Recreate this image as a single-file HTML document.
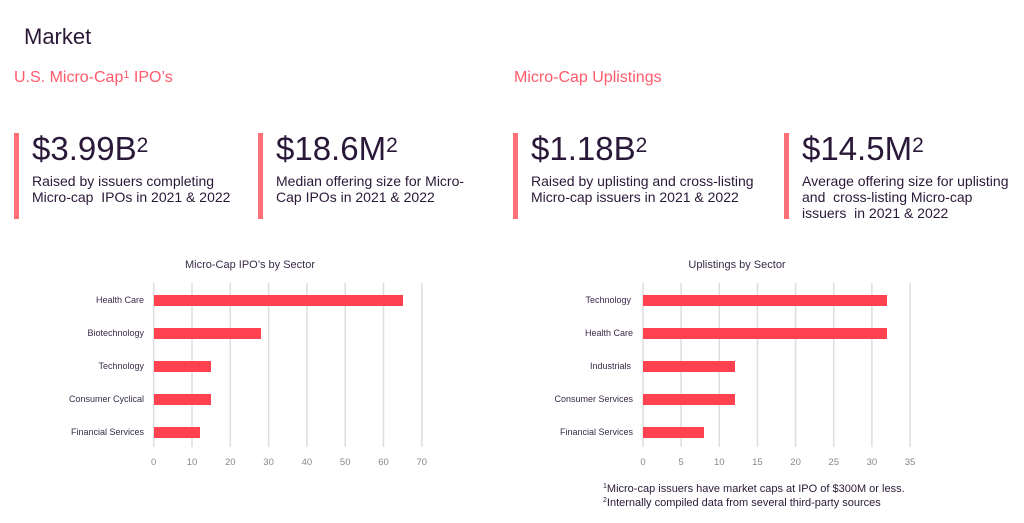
<!DOCTYPE html>
<html><head><style>
body{margin:0;width:1024px;height:523px;background:#fff;font-family:"Liberation Sans",sans-serif;position:relative;overflow:hidden;color:#2a1a3a}
.a{position:absolute;white-space:nowrap}
.h{font-size:22px;color:#2a1838}
.s{font-size:16px;color:#ff5a6b}
.bar{position:absolute;width:5px;height:86px;background:#ff6f78;top:133px}
.big{font-size:33px;color:#2a1838;line-height:33px}
.big sup{font-size:21px;vertical-align:top;position:relative;top:-3px}
.t{font-size:14px;line-height:16px;color:#2a1838}
</style></head><body>
<div class="a h" style="left:24px;top:24px">Market</div>
<div class="a s" style="left:14px;top:69px">U.S. Micro-Cap<span style="font-size:11px;vertical-align:top">1</span> IPO’s</div>
<div class="a s" style="left:514px;top:69px">Micro-Cap Uplistings</div>

<div class="bar" style="left:14px"></div>
<div class="a big" style="left:32px;top:132px">$3.99B<sup>2</sup></div>
<div class="a t" style="left:32px;top:173px">Raised by issuers completing<br>Micro-cap&nbsp; IPOs in 2021 &amp; 2022</div>

<div class="bar" style="left:258px"></div>
<div class="a big" style="left:276px;top:132px">$18.6M<sup>2</sup></div>
<div class="a t" style="left:276px;top:173px">Median offering size for Micro-<br>Cap IPOs in 2021 &amp; 2022</div>

<div class="bar" style="left:513px"></div>
<div class="a big" style="left:531px;top:132px">$1.18B<sup>2</sup></div>
<div class="a t" style="left:531px;top:173px">Raised by uplisting and cross-listing<br>Micro-cap issuers in 2021 &amp; 2022</div>

<div class="bar" style="left:784px"></div>
<div class="a big" style="left:802px;top:132px">$14.5M<sup>2</sup></div>
<div class="a t" style="left:802px;top:173px">Average offering size for uplisting<br>and&nbsp; cross-listing Micro-cap<br>issuers&nbsp; in 2021 &amp; 2022</div>

<svg class="a" style="left:0;top:0" width="1024" height="523" font-family="Liberation Sans, sans-serif">
<g stroke="#ddd" stroke-width="1.5">
<line x1="153.7" y1="283" x2="153.7" y2="447"/><line x1="192" y1="283" x2="192" y2="447"/><line x1="230.3" y1="283" x2="230.3" y2="447"/><line x1="268.6" y1="283" x2="268.6" y2="447"/><line x1="306.9" y1="283" x2="306.9" y2="447"/><line x1="345.2" y1="283" x2="345.2" y2="447"/><line x1="383.5" y1="283" x2="383.5" y2="447"/><line x1="421.8" y1="283" x2="421.8" y2="447"/>
<line x1="643" y1="283" x2="643" y2="447"/><line x1="681.1" y1="283" x2="681.1" y2="447"/><line x1="719.3" y1="283" x2="719.3" y2="447"/><line x1="757.4" y1="283" x2="757.4" y2="447"/><line x1="795.6" y1="283" x2="795.6" y2="447"/><line x1="833.7" y1="283" x2="833.7" y2="447"/><line x1="871.9" y1="283" x2="871.9" y2="447"/><line x1="910" y1="283" x2="910" y2="447"/>
</g>
<g fill="#ff4150">
<rect x="154" y="295" width="249" height="11"/><rect x="154" y="328" width="107" height="11"/><rect x="154" y="361" width="57" height="11"/><rect x="154" y="394" width="57" height="11"/><rect x="154" y="427" width="46" height="11"/>
<rect x="643" y="295" width="244" height="11"/><rect x="643" y="328" width="244" height="11"/><rect x="643" y="361" width="92" height="11"/><rect x="643" y="394" width="92" height="11"/><rect x="643" y="427" width="61" height="11"/>
</g>
<g font-size="11" fill="#3a2a4a">
<text x="250" y="268" text-anchor="middle">Micro-Cap IPO’s by Sector</text>
<text x="737" y="268" text-anchor="middle">Uplistings by Sector</text>
</g>
<g font-size="9" fill="#3a2a4a" text-anchor="end">
<text x="144" y="303">Health Care</text><text x="144" y="336">Biotechnology</text><text x="144" y="369">Technology</text><text x="144" y="402">Consumer Cyclical</text><text x="144" y="435">Financial Services</text>
<text x="631" y="303">Technology</text><text x="633" y="336">Health Care</text><text x="631" y="369">Industrials</text><text x="633" y="402">Consumer Services</text><text x="633" y="435">Financial Services</text>
</g>
<g font-size="9.5" fill="#888" text-anchor="middle">
<text x="153.7" y="465">0</text><text x="192" y="465">10</text><text x="230.3" y="465">20</text><text x="268.6" y="465">30</text><text x="306.9" y="465">40</text><text x="345.2" y="465">50</text><text x="383.5" y="465">60</text><text x="421.8" y="465">70</text>
<text x="643" y="465">0</text><text x="681.1" y="465">5</text><text x="719.3" y="465">10</text><text x="757.4" y="465">15</text><text x="795.6" y="465">20</text><text x="833.7" y="465">25</text><text x="871.9" y="465">30</text><text x="910" y="465">35</text>
</g>
<g font-size="11" fill="#2a1838">
<text x="603" y="492"><tspan font-size="7" dy="-4">1</tspan><tspan dy="4">Micro-cap issuers have market caps at IPO of $300M or less.</tspan></text>
<text x="603" y="506"><tspan font-size="7" dy="-4">2</tspan><tspan dy="4">Internally compiled data from several third-party sources</tspan></text>
</g>
</svg>
</body></html>
